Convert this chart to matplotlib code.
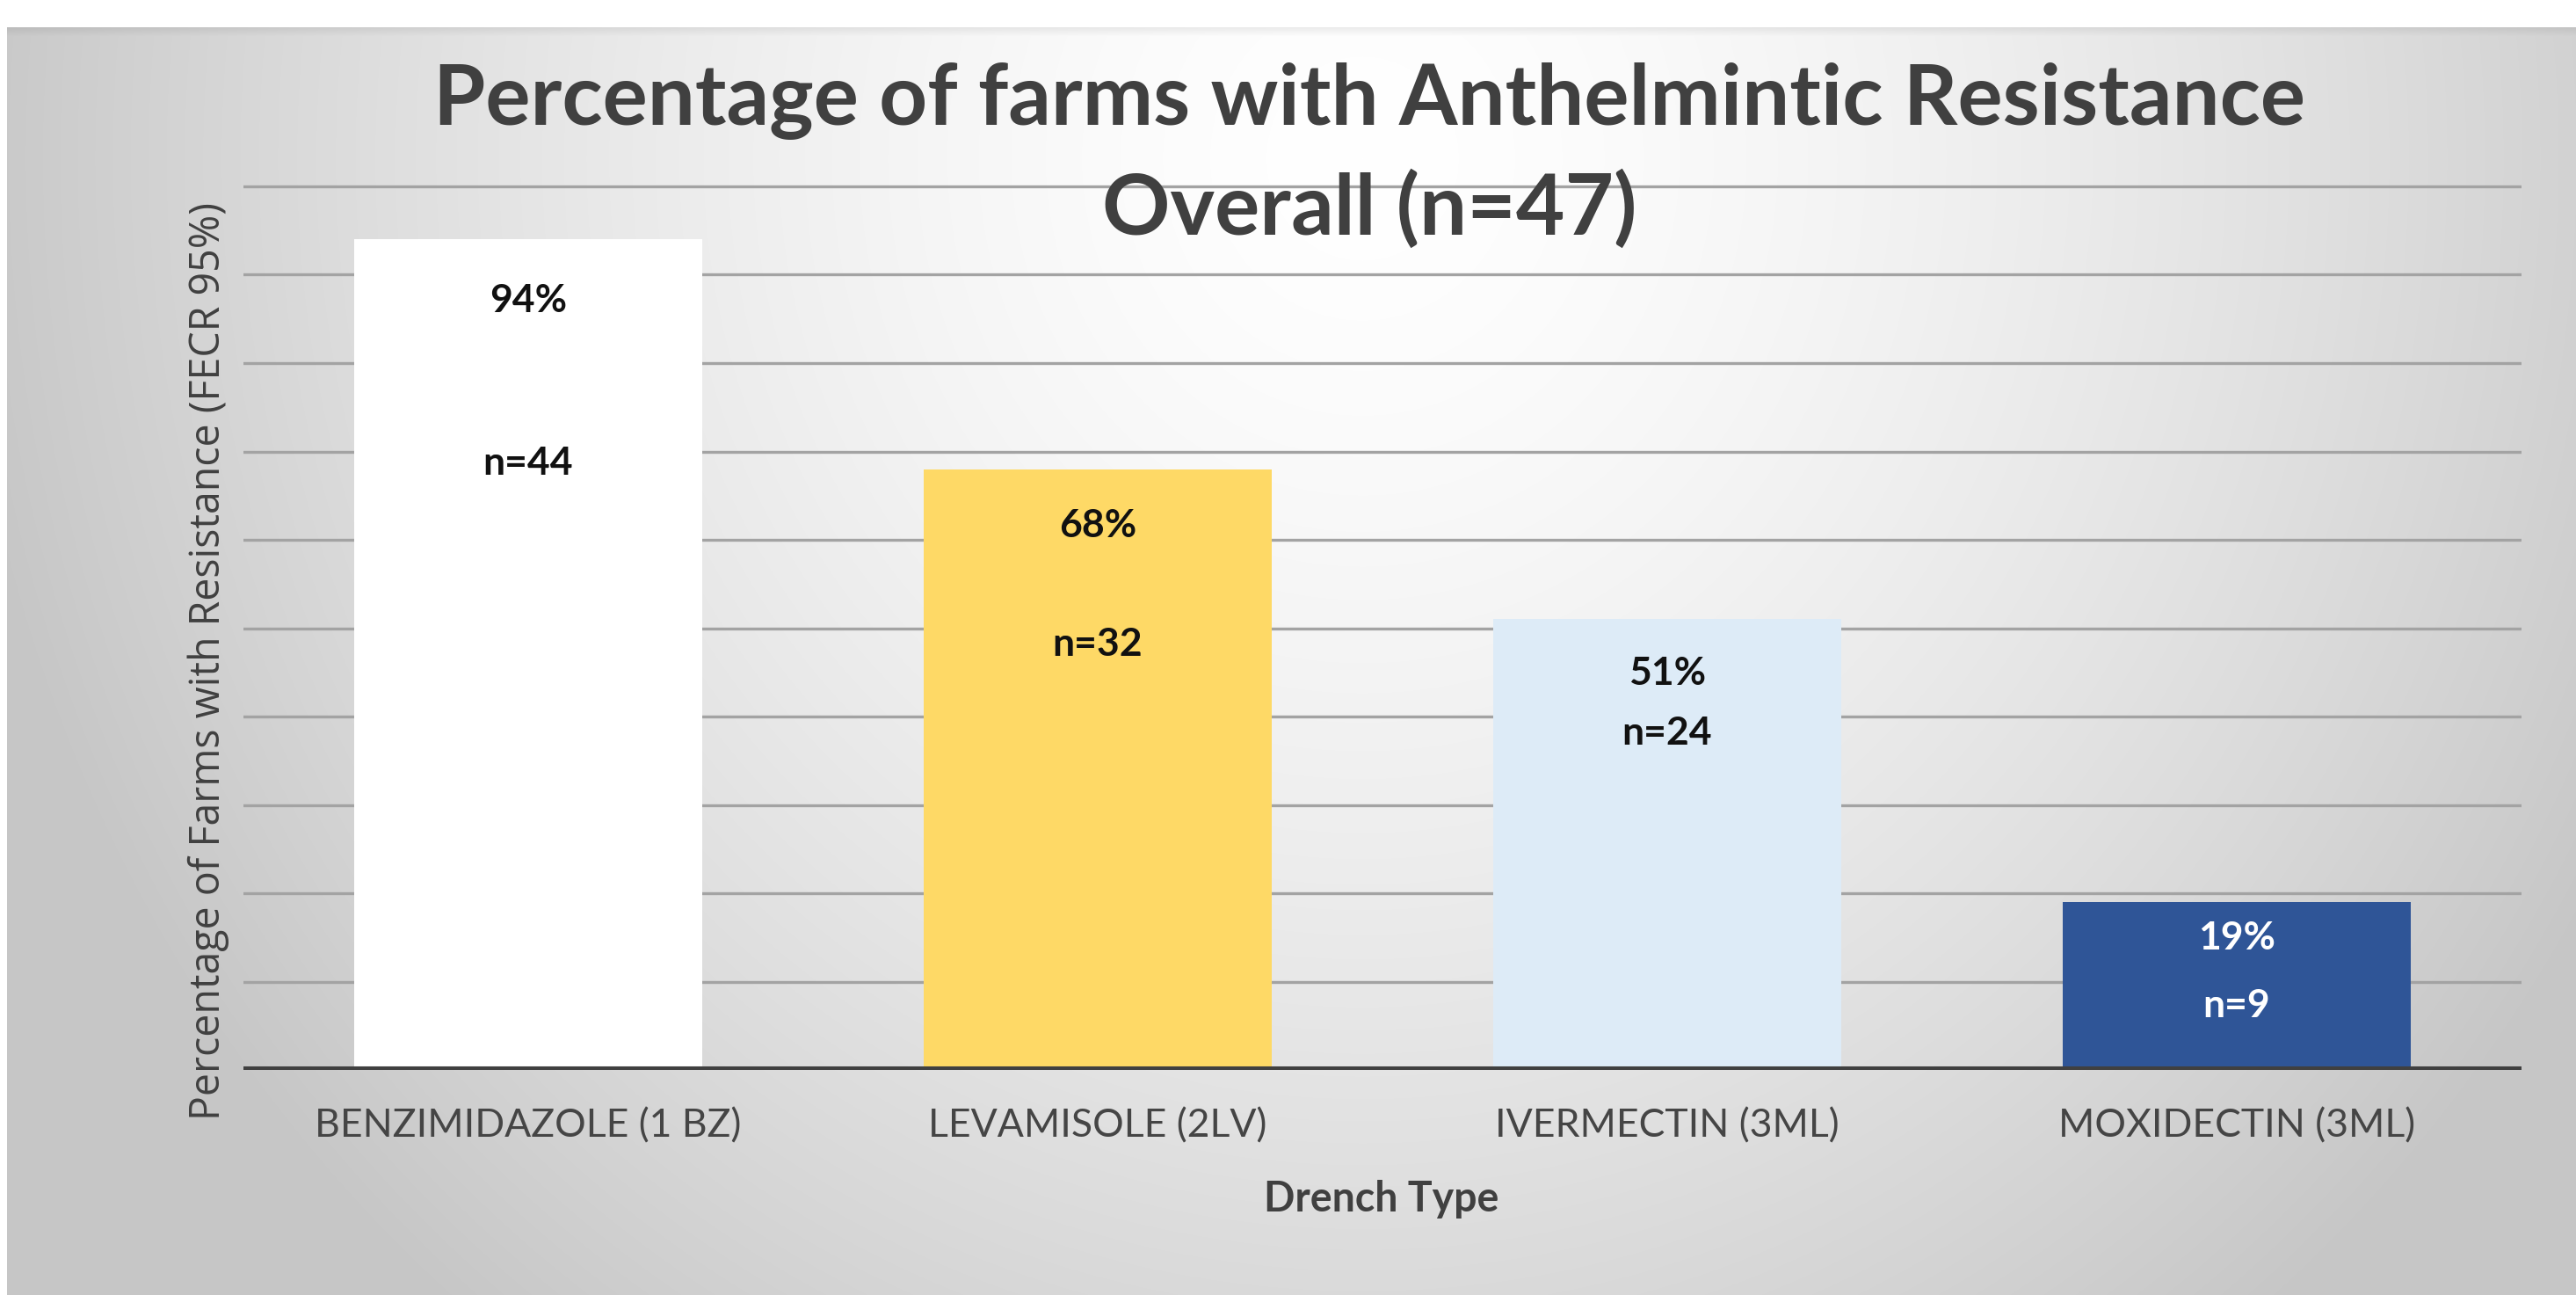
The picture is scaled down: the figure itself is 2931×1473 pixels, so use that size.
import numpy as np
import matplotlib
matplotlib.use("Agg")
import matplotlib.pyplot as plt

# ---- data ----
drench_types = ["BENZIMIDAZOLE (1 BZ)", "LEVAMISOLE (2LV)", "IVERMECTIN (3ML)", "MOXIDECTIN (3ML)"]
pct_resistant = [94, 68, 51, 19]
n_farms = [44, 32, 24, 9]
total_farms = 47

# ---- styling ----
bar_colors = ["#FFFFFF", "#FED966", "#DDEBF7", "#2F5597"]
label_colors = ["#111111", "#111111", "#111111", "#FFFFFF"]
# how far below each bar top the two label lines sit (data units)
pct_label_drop = [6.9, 6.4, 6.1, 4.1]
n_label_drop = [25.3, 19.8, 12.9, 11.7]

W, H = 2931, 1473
DPI = 100
fig = plt.figure(figsize=(W / DPI, H / DPI), dpi=DPI)
fig.patch.set_facecolor("white")

# ---- soft grey radial background panel ----
bg = fig.add_axes([0, 0, 1, 1], zorder=-10)
yy, xx = np.mgrid[0:H, 0:W].astype(float)
r = np.sqrt(((xx - 1550) / 1600) ** 2 + ((yy - 180) / 1700) ** 2)
val = 1 - 0.22 * np.clip(r, 0, 1) ** 1.5
top, left = 31, 8
# thin shadow along the panel's upper edge
shade = np.clip((yy - top) / 10.0, 0, 1)
val = np.where(yy >= top, val * (0.93 + 0.07 * shade), val)
val[:top, :] = 1.0
val[:, :left] = 1.0
bg.imshow(np.dstack([val, val, val]), extent=(0, W, H, 0), aspect="auto",
          interpolation="bilinear")
bg.set_xlim(0, W)
bg.set_ylim(H, 0)
bg.axis("off")

# ---- main bar axes ----
ymax = 102
px_per_unit = 10.05
ax_bottom = (H - 1217) / H
ax_height = ymax * px_per_unit / H
ax = fig.add_axes([277 / W, ax_bottom, 2592 / W, ax_height])
ax.set_facecolor("none")

x = np.arange(len(drench_types))
bars = ax.bar(x, pct_resistant, width=0.61, color=bar_colors, zorder=3,
              linewidth=0)

ax.set_xlim(-0.5, len(drench_types) - 0.5)
ax.set_ylim(0, ymax)
ax.set_yticks(np.arange(0, 101, 10))
ax.yaxis.grid(True, color="#a3a3a3", linewidth=2.4, zorder=0)
ax.set_axisbelow(True)
ax.tick_params(axis="y", left=False, labelleft=False)
ax.tick_params(axis="x", bottom=False, pad=28)
for side in ["top", "right", "left", "bottom"]:
    ax.spines[side].set_visible(False)
ax.axhline(0, color="#404040", linewidth=5.8, zorder=5, solid_capstyle="butt")

ax.set_xticks(x)
ax.set_xticklabels(drench_types, fontsize=32, family=["Lato", "DejaVu Sans"],
                   color="#454545")

# value labels inside the bars
for i, (p, n) in enumerate(zip(pct_resistant, n_farms)):
    ax.text(x[i], p - pct_label_drop[i], f"{p}%", ha="center", va="center",
            fontsize=32, fontweight="bold", family=["Lato", "DejaVu Sans"],
            color=label_colors[i], zorder=6)
    ax.text(x[i], p - n_label_drop[i], f"n={n}", ha="center", va="center",
            fontsize=32, fontweight="bold", family=["Lato", "DejaVu Sans"],
            color=label_colors[i], zorder=6)

# ---- titles and axis labels ----
title_x = 1558 / W
fig.text(title_x, 1 - 142 / H, "Percentage of farms with Anthelmintic Resistance",
         ha="center", va="baseline", fontsize=69, fontweight="bold",
         family=["Lato", "DejaVu Sans"], color="#404040")
fig.text(title_x, 1 - 267 / H, f"Overall (n={total_farms})",
         ha="center", va="baseline", fontsize=69, fontweight="bold",
         family=["Lato", "DejaVu Sans"], color="#404040")

fig.text(237 / W, 1 - 752 / H, "Percentage of Farms with Resistance (FECR 95%)",
         rotation=90, ha="center", va="center", fontsize=33.5,
         family=["Open Sans", "DejaVu Sans"], color="#404040")

fig.text(1572 / W, 1 - 1364 / H, "Drench Type", ha="center", va="center",
         fontsize=33.5, fontweight="bold", family=["Lato", "DejaVu Sans"],
         color="#404040")

fig.savefig("out.png", dpi=DPI)
